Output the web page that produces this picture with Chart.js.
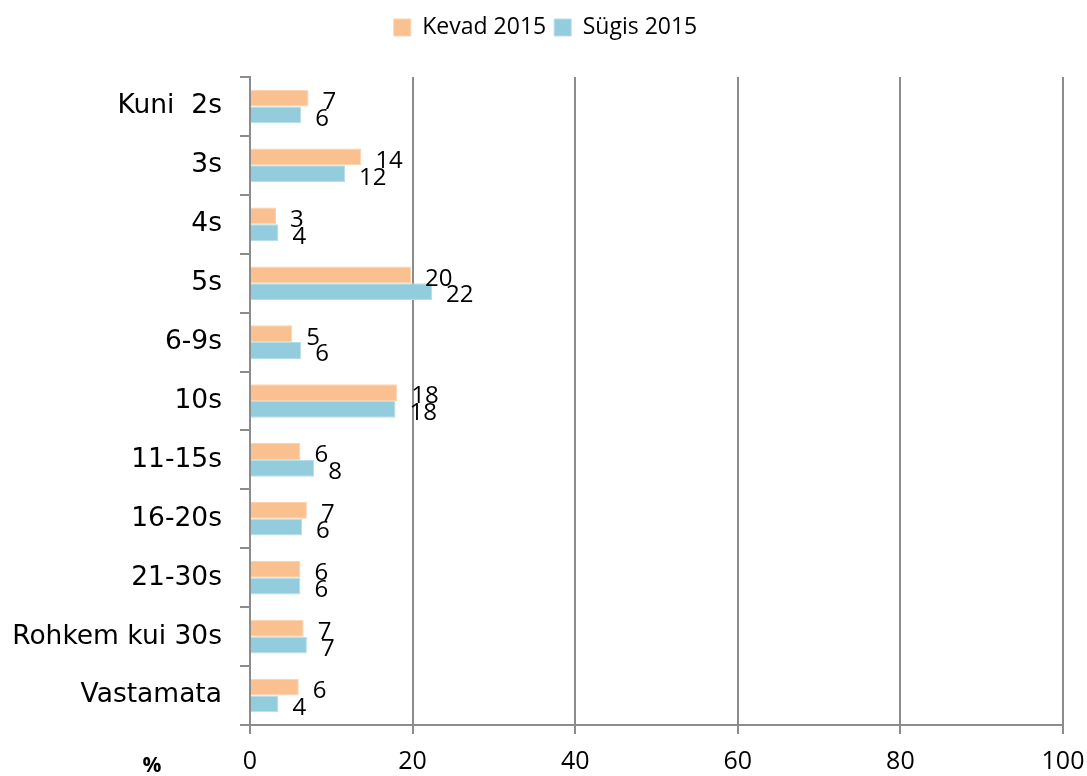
<!DOCTYPE html>
<html>
<head>
<meta charset="utf-8">
<script src="https://cdn.jsdelivr.net/npm/chart.js@4/dist/chart.umd.min.js"></script>
<style>
  body { margin: 0; background: #fff; }
  #wrap { width: 1087px; height: 776px; position: relative; }
</style>
</head>
<body>
<div id="wrap"><canvas id="chart"></canvas></div>
<script>
const categories = ['Kuni  2s', '3s', '4s', '5s', '6-9s', '10s', '11-15s', '16-20s', '21-30s', 'Rohkem kui 30s', 'Vastamata'];
const kevad2015 = [7.2, 13.7, 3.2, 19.8, 5.2, 18.1, 6.2, 7.0, 6.2, 6.6, 6.0];
const sygis2015 = [6.3, 11.7, 3.5, 22.4, 6.3, 17.9, 7.9, 6.4, 6.2, 7.0, 3.5];
const xTicks = [0, 20, 40, 60, 80, 100];

const gridGrey = '#8c8c8c';

// value labels next to each bar
const valueLabels = {
  id: 'valueLabels',
  afterDatasetsDraw(chart) {
    const ctx = chart.ctx;
    ctx.save();
    ctx.font = '24px "Open Sans"';
    ctx.fillStyle = '#000';
    ctx.textAlign = 'left';
    ctx.textBaseline = 'middle';
    chart.data.datasets.forEach((ds, i) => {
      chart.getDatasetMeta(i).data.forEach((bar, j) => {
        ctx.fillText(String(Math.round(ds.data[j])), bar.x + 14, bar.y + 4);
      });
    });
    ctx.restore();
  }
};

// legend height / position tweaks and the % unit label
const layoutTweaks = {
  id: 'layoutTweaks',
  beforeInit(chart) {
    const legend = chart.legend;
    if (legend) {
      const fit = legend.fit;
      legend.fit = function () {
        fit.call(this);
        this.height = 69;
      };
    }
  },
  afterLayout(chart) {
    if (chart.legend) {
      chart.legend.left += 14;
      chart.legend.right += 14;
    }
  },
  afterDraw(chart) {
    const ctx = chart.ctx;
    ctx.save();
    ctx.font = 'bold 21px "Open Sans"';
    ctx.fillStyle = '#000';
    ctx.textAlign = 'center';
    ctx.textBaseline = 'middle';
    ctx.fillText('%', 152, 766);
    ctx.restore();
  }
};

new Chart(document.getElementById('chart'), {
  type: 'bar',
  data: {
    labels: categories,
    datasets: [
      {
        label: 'Kevad 2015',
        data: kevad2015,
        backgroundColor: '#FAC090',
        borderColor: '#FCD3B0',
        borderWidth: 1,
        categoryPercentage: 0.57,
        barPercentage: 1.0
      },
      {
        label: 'Sügis 2015',
        data: sygis2015,
        backgroundColor: '#93CDDD',
        borderColor: '#B5DEE8',
        borderWidth: 1,
        categoryPercentage: 0.57,
        barPercentage: 1.0
      }
    ]
  },
  options: {
    indexAxis: 'y',
    responsive: true,
    maintainAspectRatio: false,
    animation: false,
    layout: { padding: { top: 8, right: 24, left: 0, bottom: 0 } },
    plugins: {
      legend: {
        position: 'top',
        labels: {
          boxWidth: 17,
          boxHeight: 17,
          padding: 8,
          color: '#000',
          font: { family: 'Open Sans', size: 23 }
        }
      },
      tooltip: { enabled: false }
    },
    scales: {
      x: {
        min: 0,
        max: 100,
        afterBuildTicks(scale) {
          scale.ticks = xTicks.map(v => ({ value: v }));
        },
        afterFit(scale) {
          scale.height = 51;
          scale.paddingLeft = 0;
          scale.paddingRight = 0;
        },
        grid: { color: gridGrey, lineWidth: 2, tickLength: 9, drawTicks: true },
        border: { display: true, color: gridGrey, width: 2 },
        ticks: {
          color: '#000',
          padding: 13,
          font: { family: 'Open Sans', size: 25 }
        }
      },
      y: {
        afterFit(scale) { scale.width = 250; },
        grid: { display: true, drawOnChartArea: false, offset: true, color: gridGrey, lineWidth: 2, tickLength: 10 },
        border: { display: true, color: gridGrey, width: 2 },
        ticks: {
          autoSkip: false,
          color: '#000',
          padding: 18,
          font: { family: 'DejaVu Sans', size: 26.5 }
        }
      }
    }
  },
  plugins: [valueLabels, layoutTweaks]
});
</script>
</body>
</html>
